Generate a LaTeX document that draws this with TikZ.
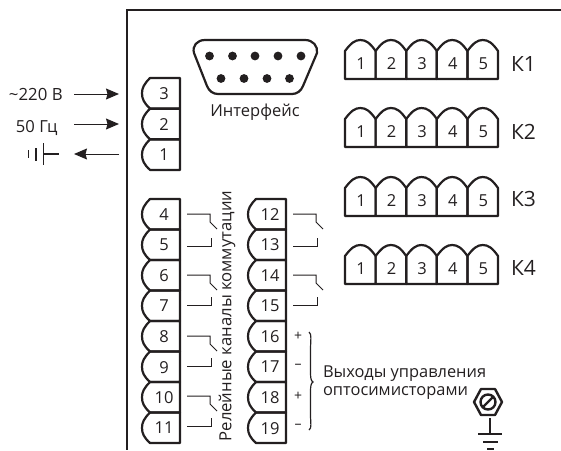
\documentclass[tikz,border=0pt]{standalone}
\usepackage{fontspec}
\setmainfont{Open Sans}
\usetikzlibrary{arrows.meta}
\definecolor{ink}{HTML}{231F20}
\newcommand{\fs}[1]{\fontsize{#1}{#1}\selectfont}
\tikzset{
  x=1pt,y=-1pt,
  every path/.style={color=ink},
  every node/.style={text=ink,inner sep=0pt,outer sep=0pt},
  frameline/.style={draw=ink,line width=2.4pt},
  termbox/.style={draw=ink,line width=2.2pt,line join=round},
  contact/.style={draw=ink,line width=1pt},
  flow/.style={draw=ink,line width=1pt,-{Stealth[length=13pt,width=11pt,inset=1.5pt]}},
  num/.style={font=\fs{16.5}},
}
\newcommand{\termh}[4]{% name, x, y, label
  \draw[termbox] (#2+38,#3) -- (#2+8,#3) .. controls (#2+2,#3+6) and (#2,#3+10) .. (#2,#3+15.25)
     .. controls (#2,#3+21) and (#2+2,#3+25) .. (#2+8,#3+30.5) -- (#2+38,#3+30.5) -- cycle;
  \node[num] (#1) at (#2+22,#3+15.6) {#4};
}
\newcommand{\cellk}[4]{% name, x, y, label
  \draw[termbox] (#2,#3+39) -- (#2,#3+11) .. controls (#2+6,#3+3) and (#2+10,#3) .. (#2+15.3,#3)
     .. controls (#2+21,#3) and (#2+25,#3+3) .. (#2+30.6,#3+11) -- (#2+30.6,#3+39) -- cycle;
  \node[num] (#1) at (#2+16,#3+24) {#4};
}
\newcommand{\rowk}[3]{% id, y, label baseline
  \cellk{#1a}{345}{#2}{1}
  \cellk{#1b}{375.6}{#2}{2}
  \cellk{#1c}{406.2}{#2}{3}
  \cellk{#1d}{436.8}{#2}{4}
  \cellk{#1e}{467.4}{#2}{5}
  \node[anchor=base west,font=\fs{21}] (#1) at (511,#3) {К#1};
}
\newcommand{\contactpair}[3]{% x, y upper, y lower
  \draw[contact] (#1,#2) -- (#1+23,#2) -- (#1+23,#2+8) -- (#1+30,#2+15);
  \draw[contact] (#1,#3) -- (#1+24,#3) -- (#1+24,#3-8);
}
\begin{document}
\begin{tikzpicture}
\useasboundingbox (0,0) rectangle (561,450);
% housing
\draw[frameline] (561,10) -- (127,10) -- (127,450);
% power terminals
\termh{t3}{142}{78}{3}
\termh{t2}{142}{108.7}{2}
\termh{t1}{142}{139.4}{1}
% left group
\termh{t4}{142}{199}{4}
\termh{t5}{142}{229.5}{5}
\termh{t6}{142}{260}{6}
\termh{t7}{142}{290.5}{7}
\termh{t8}{142}{321}{8}
\termh{t9}{142}{351.5}{9}
\termh{t10}{142}{382}{10}
\termh{t11}{142}{412.5}{11}
% right group
\termh{t12}{248}{199}{12}
\termh{t13}{248}{229.5}{13}
\termh{t14}{248}{260}{14}
\termh{t15}{248}{290.5}{15}
\termh{t16}{248}{321}{16}
\termh{t17}{248}{351.5}{17}
\termh{t18}{248}{382}{18}
\termh{t19}{248}{412.5}{19}
% contacts
\contactpair{187}{214}{246}
\contactpair{187}{275}{305}
\contactpair{187}{336}{366}
\contactpair{187}{396}{426}
\contactpair{293}{214}{246}
\contactpair{293}{275}{305}
% signs
\node[font=\fs{14}] (p1) at (298,336) {+};
\node[font=\fs{14}] (m1) at (298,366) {–};
\node[font=\fs{14}] (p2) at (298,396) {+};
\node[font=\fs{14}] (m2) at (298,426) {–};
\draw[line width=1.2pt] (309,332) .. controls (312,334) and (310.5,340) .. (310.5,350)
  -- (310.5,372) .. controls (310.5,378) and (311,381) .. (313,382)
  .. controls (311,383) and (310.5,386) .. (310.5,392) -- (310.5,414)
  .. controls (310.5,424) and (312,428) .. (309,430);
% vertical label
\node[rotate=90,font=\fs{16.7}] (relay) at (227,316) {Релейные каналы коммутации};
% output label
\node[anchor=base west,font=\fs{16.4}] (out1) at (323,377) {Выходы управления};
\node[anchor=base west,font=\fs{16.4}] (out2) at (323,395) {оптосимисторами};
% K rows
\rowk{1}{40}{71}
\rowk{2}{108}{139}
\rowk{3}{177}{206}
\rowk{4}{245}{275}
% interface
\draw[line width=2.2pt,line join=round] (205,40) -- (305,40)
  .. controls (313,40) and (318,46) .. (317,53) -- (303,86)
  .. controls (301,91) and (297,94) .. (292,94) -- (218,94)
  .. controls (213,94) and (209,91) .. (207,86) -- (194,53)
  .. controls (192,46) and (197,40) .. (205,40) -- cycle;
\foreach \px in {209.5,232.5,255,278,301}{\fill (\px,56) circle (4.4);}
\foreach \px in {221,244,267,289.5}{\fill (\px,78.5) circle (4.4);}
\node[font=\fs{16.5}] (iface) at (255,112) {Интерфейс};
% inputs
\node[anchor=base west,font=\fs{16.8}] (v220) at (9,100) {\char"7E 220 В};
\node[anchor=base west,font=\fs{16.6}] (hz) at (16,132) {50 Гц};
\coordinate (a1s) at (74,94); \coordinate (a1e) at (119,94);
\coordinate (a2s) at (74,124); \coordinate (a2e) at (119,124);
\coordinate (a3s) at (119,154); \coordinate (a3e) at (74,154);
\draw[flow] (a1s) -- (a1e);
\draw[flow] (a2s) -- (a2e);
\draw[flow] (a3s) -- (a3e);
% earth on the input side
\draw[line width=1.1pt] (28.5,150) -- (28.5,158);
\draw[line width=1.1pt] (36,148) -- (36,161);
\draw[line width=1.1pt] (43.5,143) -- (43.5,165);
\draw[line width=1.1pt] (43.5,154) -- (58.5,154);
% bolt
\draw[line width=2.4pt,line join=round] (474,402) -- (481,389) -- (495,389) -- (502,402) -- (495,415) -- (481,415) -- cycle;
\draw[line width=2.4pt] (488,402) circle (7.5);
\draw[line width=2.4pt] (483,407) -- (493,397);
% bolt earth
\draw[line width=1.1pt] (490,418) -- (490,434);
\draw[line width=1.1pt] (478,434) -- (502,434);
\draw[line width=1.1pt] (483,442) -- (498,442);
\draw[line width=1.1pt] (487,449) -- (494,449);
\end{tikzpicture}
\end{document}
